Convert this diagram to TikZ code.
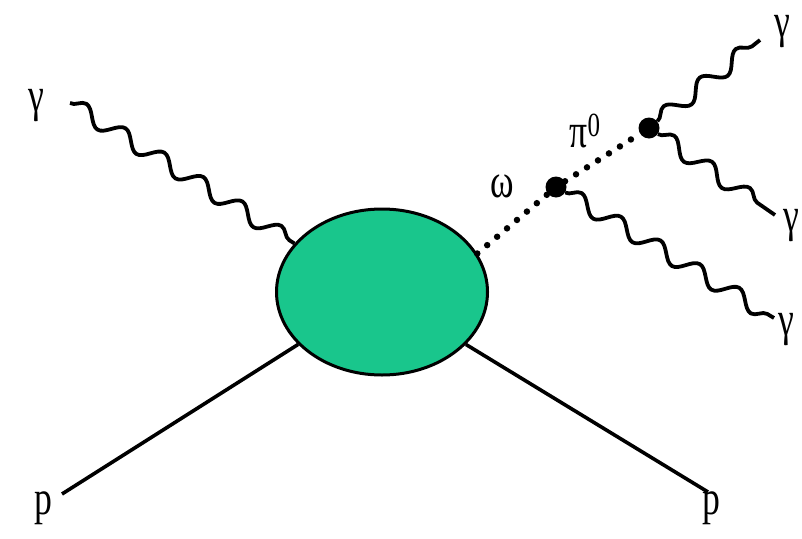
\documentclass[tikz,border=0pt]{standalone}
\usepackage{fontspec}
\setmainfont{Liberation Serif}
\newfontfamily\lblfont{Liberation Serif}
\usetikzlibrary{shapes.geometric,decorations.pathmorphing}
\definecolor{blobgreen}{RGB}{25,198,140}
\tikzset{
  photon/.style={decorate, decoration={snake, segment length=46pt, amplitude=8pt}, line width=3.8pt, line join=round},
  fermion/.style={line width=3.6pt},
  meson/.style={line width=6.5pt, line cap=round, dash pattern=on 0pt off 13pt},
  vertexdot/.style={circle, fill=black, minimum size=21pt, inner sep=0pt},
  lbl/.style={font=\lblfont\fontsize{42}{44}\selectfont, inner sep=0pt, xscale=0.85, yscale=1.15}
}
\begin{document}
\begin{tikzpicture}[x=1pt,y=-1pt]
\useasboundingbox (0,0) rectangle (802,538);
\node[ellipse, draw=black, line width=3pt, fill=blobgreen, minimum width=211pt, minimum height=166pt, inner sep=0pt] (blob) at (382,292) {};
\node[vertexdot] (v1) at (556,187) {};
\node[vertexdot] (v2) at (649,128) {};
\coordinate (gin) at (70,103);
\coordinate (pin) at (62,494);
\coordinate (pout) at (708,492);
\coordinate (g1) at (760,40);
\coordinate (g2) at (775,215);
\coordinate (g3) at (774,318);
\draw[photon] (gin) -- (blob.151);
\draw[fermion] (pin) -- (blob.212);
\draw[fermion] (blob.328) -- (pout);
\draw[meson] (blob.22) -- (v1);
\draw[meson] (v1) -- (v2);
\draw[photon] (v2) -- (g1);
\draw[photon] (v2) -- (g2);
\draw[photon] (v1) -- (g3);
\node[lbl] (lgin) at (36,106) {γ};
\node[lbl] (lpin) at (43,508) {p};
\node[lbl] (lpout) at (711,508) {p};
\node[lbl] (lg1) at (782,32) {γ};
\node[lbl] (lg2) at (791,226) {γ};
\node[lbl] (lg3) at (786,330) {γ};
\node[lbl] (lomega) at (502,186) {ω};
\node[lbl] (lpi) at (585,131) {π\textsuperscript{0}};
\end{tikzpicture}
\end{document}
